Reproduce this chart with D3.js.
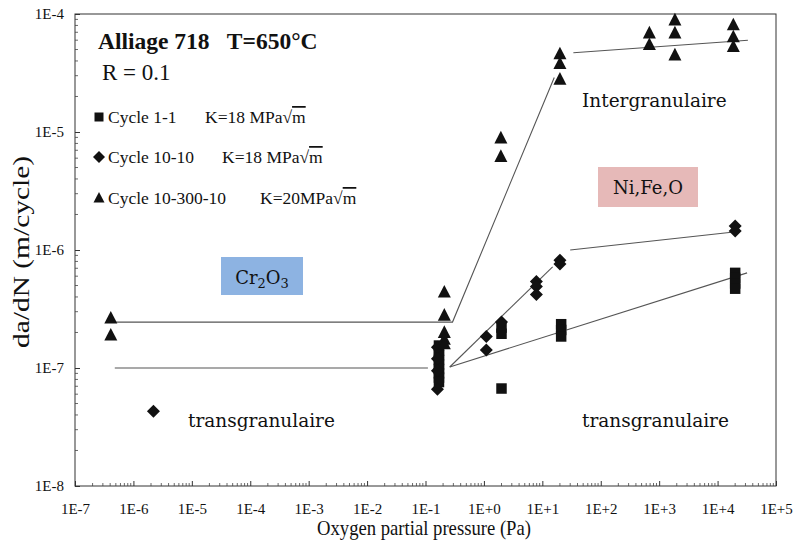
<!DOCTYPE html>
<html><head><meta charset="utf-8">
<script src="https://cdn.jsdelivr.net/npm/d3@7"></script>
<style>body{margin:0;background:#fff}</style>
</head><body><svg id="c" width="797" height="549"></svg>
<script>
// ---- data ----
const xTickValues = [1e-7,1e-6,1e-5,1e-4,1e-3,1e-2,1e-1,1e0,1e1,1e2,1e3,1e4,1e5];
const xTickLabels = ["1E-7","1E-6","1E-5","1E-4","1E-3","1E-2","1E-1","1E+0","1E+1","1E+2","1E+3","1E+4","1E+5"];
const yTickValues = [1e-8,1e-7,1e-6,1e-5,1e-4];
const yTickLabels = ["1E-8","1E-7","1E-6","1E-5","1E-4"];

// Cycle 1-1 (squares) [pressure Pa, da/dN]
const cycle11 = [
  [0.17,1.55e-7],[0.17,1.4e-7],[0.17,1.28e-7],[0.17,1.17e-7],[0.17,1.07e-7],[0.17,9.8e-8],[0.17,9.0e-8],[0.17,8.3e-8],[0.17,7.6e-8],
  [2.0,6.7e-8],[2.0,2.2e-7],[2.0,1.95e-7],
  [21,2.35e-7],[21,2.1e-7],[21,1.85e-7],
  [2.0e4,6.4e-7],[2.0e4,5.8e-7],[2.0e4,5.2e-7],[2.0e4,4.7e-7]
];
// Cycle 10-10 (diamonds)
const cycle1010 = [
  [2.2e-6,4.3e-8],
  [0.16,6.6e-8],[0.16,1.5e-7],[0.16,1.2e-7],[0.16,9.5e-8],
  [1.1,1.85e-7],[1.1,1.42e-7],
  [2.0,2.45e-7],
  [7.9,5.4e-7],[7.9,4.9e-7],[7.9,4.2e-7],
  [20,8.2e-7],[20,7.6e-7],
  [2.0e4,1.6e-6],[2.0e4,1.45e-6]
];
// Cycle 10-300-10 (triangles)
const cycle1030010 = [
  [4.1e-7,2.65e-7],[4.1e-7,1.9e-7],
  [0.21,4.4e-7],[0.21,2.8e-7],[0.21,2.0e-7],[0.21,1.75e-7],[0.21,1.6e-7],
  [1.95,8.9e-6],[1.95,6.2e-6],
  [20,4.6e-5],[20,3.8e-5],[20,2.8e-5],
  [680,6.9e-5],[680,5.5e-5],
  [1860,8.9e-5],[1860,6.9e-5],[1860,4.5e-5],
  [1.86e4,8.1e-5],[1.86e4,6.4e-5],[1.86e4,5.3e-5]
];
// trend lines
const trendUpper = [[4.0e-7,2.45e-7],[0.29,2.45e-7],[16,2.9e-5]];
const trendUpperRight = [[34,4.7e-5],[3.3e4,6.0e-5]];
const trendLower = [[4.8e-7,1.0e-7],[0.11,1.0e-7]];
const trendFanA = [[0.26,1.02e-7],[15,7.2e-7]];
const trendFanB = [[0.26,1.02e-7],[3.2e4,6.4e-7]];
const trendMid = [[30,1.0e-6],[1.9e4,1.42e-6]];

// ---- layout ----
const svg = d3.select("#c");
const L=75, R=776, T=14, B=486;
const x = d3.scaleLog().domain([1e-7,1e5]).range([L,R]);
const y = d3.scaleLog().domain([1e-8,1e-4]).range([B,T]);
const serif = "'Liberation Serif','Times New Roman',serif";
const cam = "'DejaVu Serif',serif";

// frame
svg.append("rect").attr("x",L).attr("y",T).attr("width",R-L).attr("height",B-T)
  .attr("fill","none").attr("stroke","#333").attr("stroke-width",1);

// minor ticks
const minorX = [];
for (let e=-7;e<5;e++) for (let m=2;m<10;m++) minorX.push(m*Math.pow(10,e));
const minorY = [];
for (let e=-8;e<-4;e++) for (let m=2;m<10;m++) minorY.push(m*Math.pow(10,e));
svg.append("g").selectAll("line").data(minorX).join("line")
  .attr("x1",d=>x(d)).attr("x2",d=>x(d)).attr("y1",B).attr("y2",B-3)
  .attr("stroke","#444").attr("stroke-width",0.8);
svg.append("g").selectAll("line").data(minorY).join("line")
  .attr("x1",L).attr("x2",L+3).attr("y1",d=>y(d)).attr("y2",d=>y(d))
  .attr("stroke","#444").attr("stroke-width",0.8);

// axes
const xAxis = d3.axisBottom(x).tickValues(xTickValues)
  .tickFormat((d,i)=>xTickLabels[i]).tickSizeInner(-5).tickSizeOuter(0).tickPadding(17);
const gx = svg.append("g").attr("transform",`translate(0,${B})`).call(xAxis);
gx.select(".domain").remove();
gx.selectAll("line").attr("stroke","#333");
gx.selectAll("text").attr("font-family",serif).attr("font-size",15).attr("fill","#111");

const yAxis = d3.axisLeft(y).tickValues(yTickValues)
  .tickFormat((d,i)=>yTickLabels[i]).tickSizeInner(-5).tickSizeOuter(0).tickPadding(11);
const gy = svg.append("g").attr("transform",`translate(${L},0)`).call(yAxis);
gy.select(".domain").remove();
gy.selectAll("line").attr("stroke","#333");
gy.selectAll("text").attr("font-family",serif).attr("font-size",15).attr("fill","#111");

// axis titles
svg.append("text").attr("x",424).attr("y",535).attr("text-anchor","middle")
  .attr("font-family",serif).attr("font-size",21).attr("fill","#111")
  .attr("textLength",214).attr("lengthAdjust","spacingAndGlyphs")
  .text("Oxygen partial pressure (Pa)");
svg.append("text").attr("transform","translate(29,252) rotate(-90)").attr("text-anchor","middle")
  .attr("font-family",serif).attr("font-size",23).attr("fill","#111")
  .attr("textLength",192).attr("lengthAdjust","spacingAndGlyphs")
  .text("da/dN (m/cycle)");

// trend lines
const line = d3.line().x(d=>x(d[0])).y(d=>y(d[1]));
[trendUpper,trendUpperRight,trendLower,trendFanA,trendFanB,trendMid].forEach(t=>{
  svg.append("path").attr("d",line(t)).attr("fill","none").attr("stroke","#555").attr("stroke-width",1.1);
});

// markers
const sq = s=>`M${-s/2},${-s/2}h${s}v${s}h${-s}Z`;
const di = s=>`M0,${-s/2}L${s/2},0L0,${s/2}L${-s/2},0Z`;
const tri = s=>`M0,${-s*0.55}L${s/2},${s*0.42}L${-s/2},${s*0.42}Z`;
function plot(data, path){
  svg.append("g").selectAll("path").data(data).join("path")
    .attr("transform",d=>`translate(${x(d[0])},${y(d[1])})`)
    .attr("d",path).attr("fill","#111");
}
plot(cycle11, sq(10.5));
plot(cycle1010, di(13));
plot(cycle1030010, tri(13));

// title & legend
svg.append("text").attr("x",98).attr("y",49).attr("font-family",serif).attr("font-weight","bold")
  .attr("font-size",23.5).attr("fill","#111").attr("xml:space","preserve").text("Alliage 718   T=650°C");
svg.append("text").attr("x",102).attr("y",80).attr("font-family",serif)
  .attr("font-size",23).attr("fill","#111").attr("xml:space","preserve").text("R = 0.1");

const legend = [
  {sym:sq(9), name:"Cycle 1-1", k:"K=18 MPa", ly:117, kx:205},
  {sym:di(12), name:"Cycle 10-10", k:"K=18 MPa", ly:157, kx:222},
  {sym:tri(11), name:"Cycle 10-300-10", k:"K=20MPa", ly:198, kx:260}
];
legend.forEach(l=>{
  svg.append("path").attr("transform",`translate(99,${l.ly})`).attr("d",l.sym).attr("fill","#111");
  svg.append("text").attr("x",108).attr("y",l.ly+6).attr("font-family",serif).attr("font-size",17.5)
    .attr("fill","#111").text(l.name);
  const t = svg.append("text").attr("x",l.kx).attr("y",l.ly+6).attr("font-family",serif).attr("font-size",17.5)
    .attr("fill","#111");
  t.append("tspan").text(l.k + "√");
  t.append("tspan").attr("text-decoration","overline").text("m");
});

// region labels
svg.append("rect").attr("x",221).attr("y",257).attr("width",82).attr("height",38).attr("fill","#8db3e2");
const cr = svg.append("text").attr("x",262).attr("y",284).attr("text-anchor","middle")
  .attr("font-family",cam).attr("font-size",18).attr("fill","#111");
cr.append("tspan").text("Cr");
cr.append("tspan").attr("font-size",13).attr("dy",4).text("2");
cr.append("tspan").attr("dy",-4).text("O");
cr.append("tspan").attr("font-size",13).attr("dy",4).text("3");

svg.append("rect").attr("x",598).attr("y",167).attr("width",100).attr("height",40).attr("fill","#e6b9b8");
svg.append("text").attr("x",648).attr("y",194).attr("text-anchor","middle")
  .attr("font-family",cam).attr("font-size",18).attr("fill","#111").text("Ni,Fe,O");

svg.append("text").attr("x",582).attr("y",107).attr("font-family",cam).attr("font-size",18.5)
  .attr("fill","#111").text("Intergranulaire");
svg.append("text").attr("x",188).attr("y",427).attr("font-family",cam).attr("font-size",18.5)
  .attr("fill","#111").text("transgranulaire");
svg.append("text").attr("x",582).attr("y",427).attr("font-family",cam).attr("font-size",18.5)
  .attr("fill","#111").text("transgranulaire");
</script></body></html>
